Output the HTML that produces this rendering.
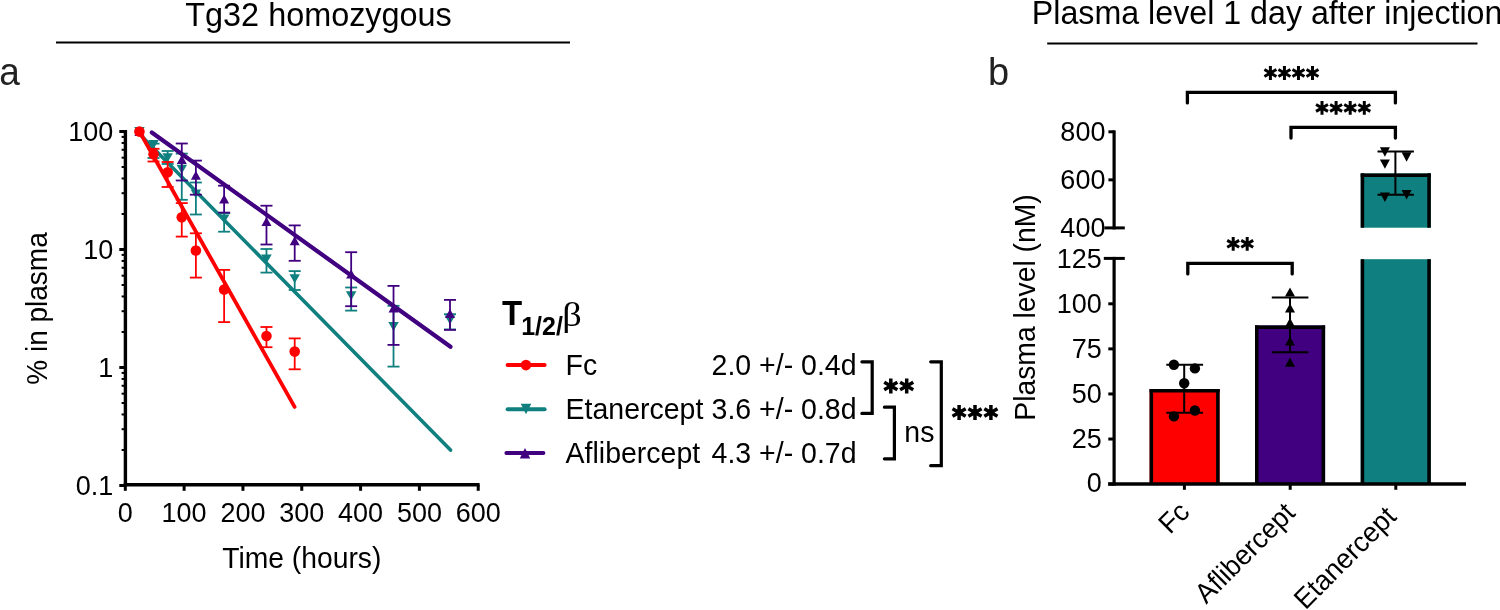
<!DOCTYPE html>
<html><head><meta charset="utf-8"><style>
html,body{margin:0;padding:0;background:#fff;}
#c{width:1500px;height:610px;overflow:hidden;position:relative;}
svg{display:block;will-change:transform;}
</style></head><body><div id="c">
<svg width="1500" height="610" viewBox="0 0 1500 610">
<rect width="1500" height="610" fill="#fff"/>
<text transform="translate(185.30 26.00) scale(1 1.04)" font-family="Liberation Sans" font-size="32.4" font-weight="normal" text-anchor="start" fill="#000" >Tg32 homozygous</text>
<line x1="56.00" y1="42.50" x2="570.00" y2="42.50" stroke="#000" stroke-width="2" stroke-linecap="butt"/>
<text transform="translate(-0.80 84.70) scale(1 1.04)" font-family="Liberation Sans" font-size="37" font-weight="normal" text-anchor="start" fill="#222" >a</text>
<line x1="125.40" y1="130.00" x2="125.40" y2="486.50" stroke="#000" stroke-width="3.4" stroke-linecap="butt"/>
<line x1="123.70" y1="484.80" x2="479.60" y2="484.80" stroke="#000" stroke-width="3.4" stroke-linecap="butt"/>
<line x1="119.30" y1="131.50" x2="125.40" y2="131.50" stroke="#000" stroke-width="3" stroke-linecap="butt"/>
<line x1="119.30" y1="249.50" x2="125.40" y2="249.50" stroke="#000" stroke-width="3" stroke-linecap="butt"/>
<line x1="119.30" y1="367.50" x2="125.40" y2="367.50" stroke="#000" stroke-width="3" stroke-linecap="butt"/>
<line x1="119.30" y1="485.50" x2="125.40" y2="485.50" stroke="#000" stroke-width="3" stroke-linecap="butt"/>
<line x1="121.60" y1="213.98" x2="125.40" y2="213.98" stroke="#000" stroke-width="2" stroke-linecap="butt"/>
<line x1="121.60" y1="193.20" x2="125.40" y2="193.20" stroke="#000" stroke-width="2" stroke-linecap="butt"/>
<line x1="121.60" y1="178.46" x2="125.40" y2="178.46" stroke="#000" stroke-width="2" stroke-linecap="butt"/>
<line x1="121.60" y1="167.02" x2="125.40" y2="167.02" stroke="#000" stroke-width="2" stroke-linecap="butt"/>
<line x1="121.60" y1="157.68" x2="125.40" y2="157.68" stroke="#000" stroke-width="2" stroke-linecap="butt"/>
<line x1="121.60" y1="149.78" x2="125.40" y2="149.78" stroke="#000" stroke-width="2" stroke-linecap="butt"/>
<line x1="121.60" y1="142.94" x2="125.40" y2="142.94" stroke="#000" stroke-width="2" stroke-linecap="butt"/>
<line x1="121.60" y1="136.90" x2="125.40" y2="136.90" stroke="#000" stroke-width="2" stroke-linecap="butt"/>
<line x1="121.60" y1="331.98" x2="125.40" y2="331.98" stroke="#000" stroke-width="2" stroke-linecap="butt"/>
<line x1="121.60" y1="311.20" x2="125.40" y2="311.20" stroke="#000" stroke-width="2" stroke-linecap="butt"/>
<line x1="121.60" y1="296.46" x2="125.40" y2="296.46" stroke="#000" stroke-width="2" stroke-linecap="butt"/>
<line x1="121.60" y1="285.02" x2="125.40" y2="285.02" stroke="#000" stroke-width="2" stroke-linecap="butt"/>
<line x1="121.60" y1="275.68" x2="125.40" y2="275.68" stroke="#000" stroke-width="2" stroke-linecap="butt"/>
<line x1="121.60" y1="267.78" x2="125.40" y2="267.78" stroke="#000" stroke-width="2" stroke-linecap="butt"/>
<line x1="121.60" y1="260.94" x2="125.40" y2="260.94" stroke="#000" stroke-width="2" stroke-linecap="butt"/>
<line x1="121.60" y1="254.90" x2="125.40" y2="254.90" stroke="#000" stroke-width="2" stroke-linecap="butt"/>
<line x1="121.60" y1="449.98" x2="125.40" y2="449.98" stroke="#000" stroke-width="2" stroke-linecap="butt"/>
<line x1="121.60" y1="429.20" x2="125.40" y2="429.20" stroke="#000" stroke-width="2" stroke-linecap="butt"/>
<line x1="121.60" y1="414.46" x2="125.40" y2="414.46" stroke="#000" stroke-width="2" stroke-linecap="butt"/>
<line x1="121.60" y1="403.02" x2="125.40" y2="403.02" stroke="#000" stroke-width="2" stroke-linecap="butt"/>
<line x1="121.60" y1="393.68" x2="125.40" y2="393.68" stroke="#000" stroke-width="2" stroke-linecap="butt"/>
<line x1="121.60" y1="385.78" x2="125.40" y2="385.78" stroke="#000" stroke-width="2" stroke-linecap="butt"/>
<line x1="121.60" y1="378.94" x2="125.40" y2="378.94" stroke="#000" stroke-width="2" stroke-linecap="butt"/>
<line x1="121.60" y1="372.90" x2="125.40" y2="372.90" stroke="#000" stroke-width="2" stroke-linecap="butt"/>
<line x1="125.30" y1="484.80" x2="125.30" y2="490.80" stroke="#000" stroke-width="3" stroke-linecap="butt"/>
<line x1="184.12" y1="484.80" x2="184.12" y2="490.80" stroke="#000" stroke-width="3" stroke-linecap="butt"/>
<line x1="242.94" y1="484.80" x2="242.94" y2="490.80" stroke="#000" stroke-width="3" stroke-linecap="butt"/>
<line x1="301.76" y1="484.80" x2="301.76" y2="490.80" stroke="#000" stroke-width="3" stroke-linecap="butt"/>
<line x1="360.58" y1="484.80" x2="360.58" y2="490.80" stroke="#000" stroke-width="3" stroke-linecap="butt"/>
<line x1="419.40" y1="484.80" x2="419.40" y2="490.80" stroke="#000" stroke-width="3" stroke-linecap="butt"/>
<line x1="478.22" y1="484.80" x2="478.22" y2="490.80" stroke="#000" stroke-width="3" stroke-linecap="butt"/>
<text transform="translate(113.20 141.20) scale(1 1.04)" font-family="Liberation Sans" font-size="27" font-weight="normal" text-anchor="end" fill="#000" >100</text>
<text transform="translate(113.20 259.20) scale(1 1.04)" font-family="Liberation Sans" font-size="27" font-weight="normal" text-anchor="end" fill="#000" >10</text>
<text transform="translate(113.20 377.20) scale(1 1.04)" font-family="Liberation Sans" font-size="27" font-weight="normal" text-anchor="end" fill="#000" >1</text>
<text transform="translate(113.20 495.20) scale(1 1.04)" font-family="Liberation Sans" font-size="27" font-weight="normal" text-anchor="end" fill="#000" >0.1</text>
<text transform="translate(125.30 521.50) scale(1 1.04)" font-family="Liberation Sans" font-size="27" font-weight="normal" text-anchor="middle" fill="#000" >0</text>
<text transform="translate(184.12 521.50) scale(1 1.04)" font-family="Liberation Sans" font-size="27" font-weight="normal" text-anchor="middle" fill="#000" >100</text>
<text transform="translate(242.94 521.50) scale(1 1.04)" font-family="Liberation Sans" font-size="27" font-weight="normal" text-anchor="middle" fill="#000" >200</text>
<text transform="translate(301.76 521.50) scale(1 1.04)" font-family="Liberation Sans" font-size="27" font-weight="normal" text-anchor="middle" fill="#000" >300</text>
<text transform="translate(360.58 521.50) scale(1 1.04)" font-family="Liberation Sans" font-size="27" font-weight="normal" text-anchor="middle" fill="#000" >400</text>
<text transform="translate(419.40 521.50) scale(1 1.04)" font-family="Liberation Sans" font-size="27" font-weight="normal" text-anchor="middle" fill="#000" >500</text>
<text transform="translate(478.22 521.50) scale(1 1.04)" font-family="Liberation Sans" font-size="27" font-weight="normal" text-anchor="middle" fill="#000" >600</text>
<text transform="translate(301.80 568.40) scale(1 1.04)" font-family="Liberation Sans" font-size="28.3" font-weight="normal" text-anchor="middle" fill="#000" >Time (hours)</text>
<text transform="translate(46.50 308.50) rotate(-90) scale(1 1.04)" font-family="Liberation Sans" font-size="28" font-weight="normal" text-anchor="middle" fill="#000" >% in plasma</text>
<line x1="139.50" y1="134.10" x2="450.50" y2="450.10" stroke="#0f7f7f" stroke-width="3.6" stroke-linecap="round"/>
<line x1="153.53" y1="143.60" x2="153.53" y2="158.00" stroke="#0f7f7f" stroke-width="1.8" stroke-linecap="butt"/>
<line x1="147.53" y1="143.60" x2="159.53" y2="143.60" stroke="#0f7f7f" stroke-width="1.8" stroke-linecap="butt"/>
<line x1="147.53" y1="158.00" x2="159.53" y2="158.00" stroke="#0f7f7f" stroke-width="1.8" stroke-linecap="butt"/>
<line x1="167.65" y1="151.00" x2="167.65" y2="164.00" stroke="#0f7f7f" stroke-width="1.8" stroke-linecap="butt"/>
<line x1="161.65" y1="151.00" x2="173.65" y2="151.00" stroke="#0f7f7f" stroke-width="1.8" stroke-linecap="butt"/>
<line x1="161.65" y1="164.00" x2="173.65" y2="164.00" stroke="#0f7f7f" stroke-width="1.8" stroke-linecap="butt"/>
<line x1="181.77" y1="153.60" x2="181.77" y2="199.80" stroke="#0f7f7f" stroke-width="1.8" stroke-linecap="butt"/>
<line x1="175.77" y1="153.60" x2="187.77" y2="153.60" stroke="#0f7f7f" stroke-width="1.8" stroke-linecap="butt"/>
<line x1="175.77" y1="199.80" x2="187.77" y2="199.80" stroke="#0f7f7f" stroke-width="1.8" stroke-linecap="butt"/>
<line x1="195.88" y1="182.50" x2="195.88" y2="214.50" stroke="#0f7f7f" stroke-width="1.8" stroke-linecap="butt"/>
<line x1="189.88" y1="182.50" x2="201.88" y2="182.50" stroke="#0f7f7f" stroke-width="1.8" stroke-linecap="butt"/>
<line x1="189.88" y1="214.50" x2="201.88" y2="214.50" stroke="#0f7f7f" stroke-width="1.8" stroke-linecap="butt"/>
<line x1="224.12" y1="213.20" x2="224.12" y2="231.70" stroke="#0f7f7f" stroke-width="1.8" stroke-linecap="butt"/>
<line x1="218.12" y1="213.20" x2="230.12" y2="213.20" stroke="#0f7f7f" stroke-width="1.8" stroke-linecap="butt"/>
<line x1="218.12" y1="231.70" x2="230.12" y2="231.70" stroke="#0f7f7f" stroke-width="1.8" stroke-linecap="butt"/>
<line x1="266.47" y1="249.00" x2="266.47" y2="272.60" stroke="#0f7f7f" stroke-width="1.8" stroke-linecap="butt"/>
<line x1="260.47" y1="249.00" x2="272.47" y2="249.00" stroke="#0f7f7f" stroke-width="1.8" stroke-linecap="butt"/>
<line x1="260.47" y1="272.60" x2="272.47" y2="272.60" stroke="#0f7f7f" stroke-width="1.8" stroke-linecap="butt"/>
<line x1="294.70" y1="271.10" x2="294.70" y2="290.00" stroke="#0f7f7f" stroke-width="1.8" stroke-linecap="butt"/>
<line x1="288.70" y1="271.10" x2="300.70" y2="271.10" stroke="#0f7f7f" stroke-width="1.8" stroke-linecap="butt"/>
<line x1="288.70" y1="290.00" x2="300.70" y2="290.00" stroke="#0f7f7f" stroke-width="1.8" stroke-linecap="butt"/>
<line x1="351.17" y1="287.50" x2="351.17" y2="310.60" stroke="#0f7f7f" stroke-width="1.8" stroke-linecap="butt"/>
<line x1="345.17" y1="287.50" x2="357.17" y2="287.50" stroke="#0f7f7f" stroke-width="1.8" stroke-linecap="butt"/>
<line x1="345.17" y1="310.60" x2="357.17" y2="310.60" stroke="#0f7f7f" stroke-width="1.8" stroke-linecap="butt"/>
<line x1="393.52" y1="305.80" x2="393.52" y2="366.60" stroke="#0f7f7f" stroke-width="1.8" stroke-linecap="butt"/>
<line x1="387.52" y1="305.80" x2="399.52" y2="305.80" stroke="#0f7f7f" stroke-width="1.8" stroke-linecap="butt"/>
<line x1="387.52" y1="366.60" x2="399.52" y2="366.60" stroke="#0f7f7f" stroke-width="1.8" stroke-linecap="butt"/>
<line x1="449.99" y1="314.20" x2="449.99" y2="329.40" stroke="#0f7f7f" stroke-width="1.8" stroke-linecap="butt"/>
<line x1="443.99" y1="314.20" x2="455.99" y2="314.20" stroke="#0f7f7f" stroke-width="1.8" stroke-linecap="butt"/>
<line x1="443.99" y1="329.40" x2="455.99" y2="329.40" stroke="#0f7f7f" stroke-width="1.8" stroke-linecap="butt"/>
<polygon points="134.17,127.00 144.67,127.00 139.42,136.00" fill="#0f7f7f"/>
<polygon points="148.28,140.00 158.78,140.00 153.53,149.00" fill="#0f7f7f"/>
<polygon points="162.40,153.30 172.90,153.30 167.65,162.30" fill="#0f7f7f"/>
<polygon points="176.52,164.70 187.02,164.70 181.77,173.70" fill="#0f7f7f"/>
<polygon points="190.63,189.50 201.13,189.50 195.88,198.50" fill="#0f7f7f"/>
<polygon points="218.87,214.60 229.37,214.60 224.12,223.60" fill="#0f7f7f"/>
<polygon points="261.22,254.40 271.72,254.40 266.47,263.40" fill="#0f7f7f"/>
<polygon points="289.45,274.30 299.95,274.30 294.70,283.30" fill="#0f7f7f"/>
<polygon points="345.92,291.20 356.42,291.20 351.17,300.20" fill="#0f7f7f"/>
<polygon points="388.27,321.90 398.77,321.90 393.52,330.90" fill="#0f7f7f"/>
<polygon points="444.74,315.60 455.24,315.60 449.99,324.60" fill="#0f7f7f"/>
<line x1="151.80" y1="132.50" x2="450.50" y2="346.70" stroke="#400080" stroke-width="4.2" stroke-linecap="round"/>
<line x1="181.77" y1="143.50" x2="181.77" y2="180.50" stroke="#400080" stroke-width="1.8" stroke-linecap="butt"/>
<line x1="175.77" y1="143.50" x2="187.77" y2="143.50" stroke="#400080" stroke-width="1.8" stroke-linecap="butt"/>
<line x1="175.77" y1="180.50" x2="187.77" y2="180.50" stroke="#400080" stroke-width="1.8" stroke-linecap="butt"/>
<line x1="195.88" y1="160.60" x2="195.88" y2="194.70" stroke="#400080" stroke-width="1.8" stroke-linecap="butt"/>
<line x1="189.88" y1="160.60" x2="201.88" y2="160.60" stroke="#400080" stroke-width="1.8" stroke-linecap="butt"/>
<line x1="189.88" y1="194.70" x2="201.88" y2="194.70" stroke="#400080" stroke-width="1.8" stroke-linecap="butt"/>
<line x1="224.12" y1="185.70" x2="224.12" y2="212.60" stroke="#400080" stroke-width="1.8" stroke-linecap="butt"/>
<line x1="218.12" y1="185.70" x2="230.12" y2="185.70" stroke="#400080" stroke-width="1.8" stroke-linecap="butt"/>
<line x1="218.12" y1="212.60" x2="230.12" y2="212.60" stroke="#400080" stroke-width="1.8" stroke-linecap="butt"/>
<line x1="266.47" y1="205.70" x2="266.47" y2="244.50" stroke="#400080" stroke-width="1.8" stroke-linecap="butt"/>
<line x1="260.47" y1="205.70" x2="272.47" y2="205.70" stroke="#400080" stroke-width="1.8" stroke-linecap="butt"/>
<line x1="260.47" y1="244.50" x2="272.47" y2="244.50" stroke="#400080" stroke-width="1.8" stroke-linecap="butt"/>
<line x1="294.70" y1="225.40" x2="294.70" y2="260.80" stroke="#400080" stroke-width="1.8" stroke-linecap="butt"/>
<line x1="288.70" y1="225.40" x2="300.70" y2="225.40" stroke="#400080" stroke-width="1.8" stroke-linecap="butt"/>
<line x1="288.70" y1="260.80" x2="300.70" y2="260.80" stroke="#400080" stroke-width="1.8" stroke-linecap="butt"/>
<line x1="351.17" y1="252.20" x2="351.17" y2="306.20" stroke="#400080" stroke-width="1.8" stroke-linecap="butt"/>
<line x1="345.17" y1="252.20" x2="357.17" y2="252.20" stroke="#400080" stroke-width="1.8" stroke-linecap="butt"/>
<line x1="345.17" y1="306.20" x2="357.17" y2="306.20" stroke="#400080" stroke-width="1.8" stroke-linecap="butt"/>
<line x1="393.52" y1="285.90" x2="393.52" y2="344.90" stroke="#400080" stroke-width="1.8" stroke-linecap="butt"/>
<line x1="387.52" y1="285.90" x2="399.52" y2="285.90" stroke="#400080" stroke-width="1.8" stroke-linecap="butt"/>
<line x1="387.52" y1="344.90" x2="399.52" y2="344.90" stroke="#400080" stroke-width="1.8" stroke-linecap="butt"/>
<line x1="449.99" y1="299.90" x2="449.99" y2="329.90" stroke="#400080" stroke-width="1.8" stroke-linecap="butt"/>
<line x1="443.99" y1="299.90" x2="455.99" y2="299.90" stroke="#400080" stroke-width="1.8" stroke-linecap="butt"/>
<line x1="443.99" y1="329.90" x2="455.99" y2="329.90" stroke="#400080" stroke-width="1.8" stroke-linecap="butt"/>
<polygon points="134.42,136.00 144.42,136.00 139.42,127.00" fill="#400080"/>
<polygon points="176.77,164.00 186.77,164.00 181.77,155.00" fill="#400080"/>
<polygon points="190.88,179.70 200.88,179.70 195.88,170.70" fill="#400080"/>
<polygon points="219.12,203.50 229.12,203.50 224.12,194.50" fill="#400080"/>
<polygon points="261.47,226.00 271.47,226.00 266.47,217.00" fill="#400080"/>
<polygon points="289.70,245.30 299.70,245.30 294.70,236.30" fill="#400080"/>
<polygon points="346.17,278.60 356.17,278.60 351.17,269.60" fill="#400080"/>
<polygon points="388.52,312.50 398.52,312.50 393.52,303.50" fill="#400080"/>
<polygon points="444.99,318.10 454.99,318.10 449.99,309.10" fill="#400080"/>
<line x1="139.50" y1="131.50" x2="294.60" y2="406.90" stroke="#ff0000" stroke-width="3.8" stroke-linecap="round"/>
<line x1="153.53" y1="148.80" x2="153.53" y2="161.50" stroke="#ff0000" stroke-width="1.8" stroke-linecap="butt"/>
<line x1="147.53" y1="148.80" x2="159.53" y2="148.80" stroke="#ff0000" stroke-width="1.8" stroke-linecap="butt"/>
<line x1="147.53" y1="161.50" x2="159.53" y2="161.50" stroke="#ff0000" stroke-width="1.8" stroke-linecap="butt"/>
<line x1="167.65" y1="162.00" x2="167.65" y2="187.00" stroke="#ff0000" stroke-width="1.8" stroke-linecap="butt"/>
<line x1="161.65" y1="162.00" x2="173.65" y2="162.00" stroke="#ff0000" stroke-width="1.8" stroke-linecap="butt"/>
<line x1="161.65" y1="187.00" x2="173.65" y2="187.00" stroke="#ff0000" stroke-width="1.8" stroke-linecap="butt"/>
<line x1="181.77" y1="203.10" x2="181.77" y2="236.60" stroke="#ff0000" stroke-width="1.8" stroke-linecap="butt"/>
<line x1="175.77" y1="203.10" x2="187.77" y2="203.10" stroke="#ff0000" stroke-width="1.8" stroke-linecap="butt"/>
<line x1="175.77" y1="236.60" x2="187.77" y2="236.60" stroke="#ff0000" stroke-width="1.8" stroke-linecap="butt"/>
<line x1="195.88" y1="233.30" x2="195.88" y2="277.60" stroke="#ff0000" stroke-width="1.8" stroke-linecap="butt"/>
<line x1="189.88" y1="233.30" x2="201.88" y2="233.30" stroke="#ff0000" stroke-width="1.8" stroke-linecap="butt"/>
<line x1="189.88" y1="277.60" x2="201.88" y2="277.60" stroke="#ff0000" stroke-width="1.8" stroke-linecap="butt"/>
<line x1="224.12" y1="269.90" x2="224.12" y2="322.10" stroke="#ff0000" stroke-width="1.8" stroke-linecap="butt"/>
<line x1="218.12" y1="269.90" x2="230.12" y2="269.90" stroke="#ff0000" stroke-width="1.8" stroke-linecap="butt"/>
<line x1="218.12" y1="322.10" x2="230.12" y2="322.10" stroke="#ff0000" stroke-width="1.8" stroke-linecap="butt"/>
<line x1="266.47" y1="327.00" x2="266.47" y2="347.20" stroke="#ff0000" stroke-width="1.8" stroke-linecap="butt"/>
<line x1="260.47" y1="327.00" x2="272.47" y2="327.00" stroke="#ff0000" stroke-width="1.8" stroke-linecap="butt"/>
<line x1="260.47" y1="347.20" x2="272.47" y2="347.20" stroke="#ff0000" stroke-width="1.8" stroke-linecap="butt"/>
<line x1="294.70" y1="338.40" x2="294.70" y2="369.30" stroke="#ff0000" stroke-width="1.8" stroke-linecap="butt"/>
<line x1="288.70" y1="338.40" x2="300.70" y2="338.40" stroke="#ff0000" stroke-width="1.8" stroke-linecap="butt"/>
<line x1="288.70" y1="369.30" x2="300.70" y2="369.30" stroke="#ff0000" stroke-width="1.8" stroke-linecap="butt"/>
<circle cx="139.42" cy="131.60" r="5.3" fill="#ff0000"/>
<circle cx="153.53" cy="154.20" r="5.3" fill="#ff0000"/>
<circle cx="167.65" cy="172.20" r="5.3" fill="#ff0000"/>
<circle cx="181.77" cy="217.30" r="5.3" fill="#ff0000"/>
<circle cx="195.88" cy="250.50" r="5.3" fill="#ff0000"/>
<circle cx="224.12" cy="289.50" r="5.3" fill="#ff0000"/>
<circle cx="266.47" cy="336.00" r="5.3" fill="#ff0000"/>
<circle cx="294.70" cy="351.60" r="5.3" fill="#ff0000"/>
<text transform="translate(502.00 325.20) scale(1 1.04)" font-family="Liberation Sans" font-size="33" font-weight="bold" text-anchor="start" fill="#000" >T</text>
<text transform="translate(521.20 334.60) scale(1 1.04)" font-family="Liberation Sans" font-size="25" font-weight="bold" text-anchor="start" fill="#000" >1/2/</text>
<text transform="translate(562.2 326.1) scale(1.13 1)" font-family="Liberation Serif" font-size="34" fill="#000">β</text>
<line x1="507.60" y1="365.10" x2="544.60" y2="365.10" stroke="#ff0000" stroke-width="4" stroke-linecap="round"/>
<circle cx="526.00" cy="365.10" r="5.3" fill="#ff0000"/>
<line x1="507.60" y1="409.20" x2="544.60" y2="409.20" stroke="#0f7f7f" stroke-width="4" stroke-linecap="round"/>
<polygon points="520.75,403.85 531.25,403.85 526.00,414.15" fill="#0f7f7f"/>
<line x1="506.40" y1="453.00" x2="543.40" y2="453.00" stroke="#400080" stroke-width="4" stroke-linecap="round"/>
<polygon points="519.75,458.40 530.25,458.40 525.00,448.00" fill="#400080"/>
<text transform="translate(565.60 374.50) scale(1 1.04)" font-family="Liberation Sans" font-size="28.5" font-weight="normal" text-anchor="start" fill="#000" >Fc</text>
<text transform="translate(565.60 418.90) scale(1 1.04)" font-family="Liberation Sans" font-size="28.5" font-weight="normal" text-anchor="start" fill="#000" >Etanercept</text>
<text transform="translate(565.60 462.80) scale(1 1.04)" font-family="Liberation Sans" font-size="28.5" font-weight="normal" text-anchor="start" fill="#000" >Aflibercept</text>
<text transform="translate(856.50 374.80) scale(1 1.04)" font-family="Liberation Sans" font-size="28.5" font-weight="normal" text-anchor="end" fill="#000" >2.0 +/- 0.4d</text>
<text transform="translate(856.50 418.70) scale(1 1.04)" font-family="Liberation Sans" font-size="28.5" font-weight="normal" text-anchor="end" fill="#000" >3.6 +/- 0.8d</text>
<text transform="translate(856.50 462.60) scale(1 1.04)" font-family="Liberation Sans" font-size="28.5" font-weight="normal" text-anchor="end" fill="#000" >4.3 +/- 0.7d</text>
<polyline points="861.9,361.8 872.2,361.8 872.2,413.4 861.9,413.4" fill="none" stroke="#000" stroke-width="3.2" stroke-linejoin="miter" stroke-linecap="round"/>
<polyline points="884.4,407.2 894.4,407.2 894.4,458.8 884.4,458.8" fill="none" stroke="#000" stroke-width="3.2" stroke-linejoin="miter" stroke-linecap="round"/>
<polyline points="930.7,361.8 941.3,361.8 941.3,465.7 930.7,465.7" fill="none" stroke="#000" stroke-width="3.2" stroke-linejoin="miter" stroke-linecap="round"/>
<path d="M890.80,393.60L890.80,378.40M884.22,389.80L897.38,382.20M884.22,382.20L897.38,389.80" stroke="#000" stroke-width="3.5" fill="none"/>
<path d="M906.70,393.60L906.70,378.40M900.12,389.80L913.28,382.20M900.12,382.20L913.28,389.80" stroke="#000" stroke-width="3.5" fill="none"/>
<text transform="translate(904.35 441.80) scale(1 1.04)" font-family="Liberation Sans" font-size="28.5" font-weight="normal" text-anchor="start" fill="#000" >ns</text>
<path d="M959.10,420.10L959.10,404.90M952.52,416.30L965.68,408.70M952.52,408.70L965.68,416.30" stroke="#000" stroke-width="3.5" fill="none"/>
<path d="M975.00,420.10L975.00,404.90M968.42,416.30L981.58,408.70M968.42,408.70L981.58,416.30" stroke="#000" stroke-width="3.5" fill="none"/>
<path d="M990.90,420.10L990.90,404.90M984.32,416.30L997.48,408.70M984.32,408.70L997.48,416.30" stroke="#000" stroke-width="3.5" fill="none"/>
<text transform="translate(1031.80 24.20) scale(1 1.04)" font-family="Liberation Sans" font-size="32.2" font-weight="normal" text-anchor="start" fill="#000" >Plasma level 1 day after injection</text>
<line x1="1047.20" y1="43.60" x2="1477.50" y2="43.60" stroke="#000" stroke-width="2" stroke-linecap="butt"/>
<text transform="translate(988.00 84.80) scale(1 1.04)" font-family="Liberation Sans" font-size="38" font-weight="normal" text-anchor="start" fill="#222" >b</text>
<rect x="1149.60" y="389.10" width="70.00" height="94.90" fill="#ff0000"/>
<line x1="1149.60" y1="390.85" x2="1219.60" y2="390.85" stroke="#000" stroke-width="3.5" stroke-linecap="butt"/>
<line x1="1151.35" y1="389.10" x2="1151.35" y2="484.00" stroke="#000" stroke-width="3.5" stroke-linecap="butt"/>
<line x1="1217.85" y1="389.10" x2="1217.85" y2="484.00" stroke="#000" stroke-width="3.5" stroke-linecap="butt"/>
<rect x="1255.00" y="325.40" width="70.10" height="158.60" fill="#400080"/>
<line x1="1255.00" y1="327.15" x2="1325.10" y2="327.15" stroke="#000" stroke-width="3.5" stroke-linecap="butt"/>
<line x1="1256.75" y1="325.40" x2="1256.75" y2="484.00" stroke="#000" stroke-width="3.5" stroke-linecap="butt"/>
<line x1="1323.35" y1="325.40" x2="1323.35" y2="484.00" stroke="#000" stroke-width="3.5" stroke-linecap="butt"/>
<rect x="1360.70" y="173.40" width="70.10" height="54.30" fill="#0f7f7f"/>
<line x1="1360.70" y1="175.15" x2="1430.80" y2="175.15" stroke="#000" stroke-width="3.5" stroke-linecap="butt"/>
<line x1="1362.45" y1="173.40" x2="1362.45" y2="227.70" stroke="#000" stroke-width="3.5" stroke-linecap="butt"/>
<line x1="1429.05" y1="173.40" x2="1429.05" y2="227.70" stroke="#000" stroke-width="3.5" stroke-linecap="butt"/>
<rect x="1360.70" y="259.20" width="70.10" height="224.80" fill="#0f7f7f"/>
<line x1="1362.45" y1="259.20" x2="1362.45" y2="484.00" stroke="#000" stroke-width="3.5" stroke-linecap="butt"/>
<line x1="1429.05" y1="259.20" x2="1429.05" y2="484.00" stroke="#000" stroke-width="3.5" stroke-linecap="butt"/>
<line x1="1114.10" y1="130.30" x2="1114.10" y2="229.40" stroke="#000" stroke-width="3.2" stroke-linecap="butt"/>
<line x1="1114.10" y1="256.90" x2="1114.10" y2="485.50" stroke="#000" stroke-width="3.2" stroke-linecap="butt"/>
<line x1="1108.20" y1="484.10" x2="1466.00" y2="484.10" stroke="#000" stroke-width="3.5" stroke-linecap="butt"/>
<line x1="1108.40" y1="131.80" x2="1114.10" y2="131.80" stroke="#000" stroke-width="3" stroke-linecap="butt"/>
<line x1="1108.40" y1="179.85" x2="1114.10" y2="179.85" stroke="#000" stroke-width="3" stroke-linecap="butt"/>
<line x1="1104.40" y1="227.90" x2="1124.80" y2="227.90" stroke="#000" stroke-width="3" stroke-linecap="butt"/>
<line x1="1103.80" y1="258.40" x2="1124.80" y2="258.40" stroke="#000" stroke-width="3" stroke-linecap="butt"/>
<line x1="1108.30" y1="303.80" x2="1114.10" y2="303.80" stroke="#000" stroke-width="3" stroke-linecap="butt"/>
<line x1="1108.30" y1="348.88" x2="1114.10" y2="348.88" stroke="#000" stroke-width="3" stroke-linecap="butt"/>
<line x1="1108.30" y1="393.95" x2="1114.10" y2="393.95" stroke="#000" stroke-width="3" stroke-linecap="butt"/>
<line x1="1108.30" y1="439.03" x2="1114.10" y2="439.03" stroke="#000" stroke-width="3" stroke-linecap="butt"/>
<line x1="1108.30" y1="484.10" x2="1114.10" y2="484.10" stroke="#000" stroke-width="3" stroke-linecap="butt"/>
<line x1="1184.40" y1="484.00" x2="1184.40" y2="489.80" stroke="#000" stroke-width="3" stroke-linecap="butt"/>
<line x1="1290.20" y1="484.00" x2="1290.20" y2="489.80" stroke="#000" stroke-width="3" stroke-linecap="butt"/>
<line x1="1395.80" y1="484.00" x2="1395.80" y2="489.80" stroke="#000" stroke-width="3" stroke-linecap="butt"/>
<text transform="translate(1105.40 140.90) scale(1 1.04)" font-family="Liberation Sans" font-size="27" font-weight="normal" text-anchor="end" fill="#000" >800</text>
<text transform="translate(1105.40 189.10) scale(1 1.04)" font-family="Liberation Sans" font-size="27" font-weight="normal" text-anchor="end" fill="#000" >600</text>
<text transform="translate(1105.40 237.30) scale(1 1.04)" font-family="Liberation Sans" font-size="27" font-weight="normal" text-anchor="end" fill="#000" >400</text>
<text transform="translate(1101.70 267.90) scale(1 1.04)" font-family="Liberation Sans" font-size="27" font-weight="normal" text-anchor="end" fill="#000" >125</text>
<text transform="translate(1101.70 312.80) scale(1 1.04)" font-family="Liberation Sans" font-size="27" font-weight="normal" text-anchor="end" fill="#000" >100</text>
<text transform="translate(1101.70 357.70) scale(1 1.04)" font-family="Liberation Sans" font-size="27" font-weight="normal" text-anchor="end" fill="#000" >75</text>
<text transform="translate(1101.70 402.60) scale(1 1.04)" font-family="Liberation Sans" font-size="27" font-weight="normal" text-anchor="end" fill="#000" >50</text>
<text transform="translate(1101.70 447.50) scale(1 1.04)" font-family="Liberation Sans" font-size="27" font-weight="normal" text-anchor="end" fill="#000" >25</text>
<text transform="translate(1101.70 492.40) scale(1 1.04)" font-family="Liberation Sans" font-size="27" font-weight="normal" text-anchor="end" fill="#000" >0</text>
<text transform="translate(1035.20 307.50) rotate(-90) scale(1 1.04)" font-family="Liberation Sans" font-size="28.3" font-weight="normal" text-anchor="middle" fill="#000" >Plasma level (nM)</text>
<line x1="1184.20" y1="364.70" x2="1184.20" y2="412.70" stroke="#000" stroke-width="2" stroke-linecap="butt"/>
<line x1="1166.30" y1="364.70" x2="1203.10" y2="364.70" stroke="#000" stroke-width="2" stroke-linecap="butt"/>
<line x1="1166.30" y1="412.70" x2="1203.10" y2="412.70" stroke="#000" stroke-width="2" stroke-linecap="butt"/>
<line x1="1290.00" y1="297.40" x2="1290.00" y2="352.30" stroke="#000" stroke-width="2" stroke-linecap="butt"/>
<line x1="1271.80" y1="297.40" x2="1308.40" y2="297.40" stroke="#000" stroke-width="2" stroke-linecap="butt"/>
<line x1="1271.80" y1="352.30" x2="1308.40" y2="352.30" stroke="#000" stroke-width="2" stroke-linecap="butt"/>
<line x1="1395.40" y1="151.60" x2="1395.40" y2="194.80" stroke="#000" stroke-width="2" stroke-linecap="butt"/>
<line x1="1377.50" y1="151.60" x2="1413.90" y2="151.60" stroke="#000" stroke-width="2" stroke-linecap="butt"/>
<line x1="1377.50" y1="194.80" x2="1413.90" y2="194.80" stroke="#000" stroke-width="2" stroke-linecap="butt"/>
<circle cx="1173.90" cy="364.70" r="5.2" fill="#000"/>
<circle cx="1194.90" cy="368.40" r="5.2" fill="#000"/>
<circle cx="1184.20" cy="383.20" r="5.2" fill="#000"/>
<circle cx="1194.90" cy="410.50" r="5.2" fill="#000"/>
<circle cx="1173.90" cy="416.40" r="5.2" fill="#000"/>
<polygon points="1285.00,296.60 1295.00,296.60 1290.00,287.40" fill="#000"/>
<polygon points="1285.00,312.60 1295.00,312.60 1290.00,303.40" fill="#000"/>
<polygon points="1285.00,327.10 1295.00,327.10 1290.00,317.90" fill="#000"/>
<polygon points="1285.00,345.60 1295.00,345.60 1290.00,336.40" fill="#000"/>
<polygon points="1285.00,366.80 1295.00,366.80 1290.00,357.60" fill="#000"/>
<polygon points="1379.90,147.30 1389.90,147.30 1384.90,156.70" fill="#000"/>
<polygon points="1401.60,152.30 1411.60,152.30 1406.60,161.70" fill="#000"/>
<polygon points="1379.90,159.40 1389.90,159.40 1384.90,168.80" fill="#000"/>
<polygon points="1401.60,190.00 1411.60,190.00 1406.60,199.40" fill="#000"/>
<polygon points="1379.90,192.50 1389.90,192.50 1384.90,201.90" fill="#000"/>
<polyline points="1187.4,102.9 1187.4,92.3 1395.4,92.3 1395.4,102.9" fill="none" stroke="#000" stroke-width="3.3" stroke-linejoin="miter" stroke-linecap="round"/>
<polyline points="1291,138.1 1291,127.3 1395.4,127.3 1395.4,138.1" fill="none" stroke="#000" stroke-width="3.3" stroke-linejoin="miter" stroke-linecap="round"/>
<polyline points="1187.8,273.9 1187.8,263.4 1292.2,263.4 1292.2,273.9" fill="none" stroke="#000" stroke-width="3.3" stroke-linejoin="miter" stroke-linecap="round"/>
<path d="M1270.40,79.90L1270.40,66.10M1264.42,76.45L1276.38,69.55M1264.42,69.55L1276.38,76.45" stroke="#000" stroke-width="3.0" fill="none"/>
<path d="M1284.43,79.90L1284.43,66.10M1278.45,76.45L1290.41,69.55M1278.45,69.55L1290.41,76.45" stroke="#000" stroke-width="3.0" fill="none"/>
<path d="M1298.46,79.90L1298.46,66.10M1292.48,76.45L1304.44,69.55M1292.48,69.55L1304.44,76.45" stroke="#000" stroke-width="3.0" fill="none"/>
<path d="M1312.49,79.90L1312.49,66.10M1306.51,76.45L1318.47,69.55M1306.51,69.55L1318.47,76.45" stroke="#000" stroke-width="3.0" fill="none"/>
<path d="M1322.00,114.85L1322.00,101.05M1316.02,111.40L1327.98,104.50M1316.02,104.50L1327.98,111.40" stroke="#000" stroke-width="3.0" fill="none"/>
<path d="M1336.10,114.85L1336.10,101.05M1330.12,111.40L1342.08,104.50M1330.12,104.50L1342.08,111.40" stroke="#000" stroke-width="3.0" fill="none"/>
<path d="M1350.20,114.85L1350.20,101.05M1344.22,111.40L1356.18,104.50M1344.22,104.50L1356.18,111.40" stroke="#000" stroke-width="3.0" fill="none"/>
<path d="M1364.30,114.85L1364.30,101.05M1358.32,111.40L1370.28,104.50M1358.32,104.50L1370.28,111.40" stroke="#000" stroke-width="3.0" fill="none"/>
<path d="M1233.20,250.70L1233.20,236.90M1227.22,247.25L1239.18,240.35M1227.22,240.35L1239.18,247.25" stroke="#000" stroke-width="3.0" fill="none"/>
<path d="M1247.20,250.70L1247.20,236.90M1241.22,247.25L1253.18,240.35M1241.22,240.35L1253.18,247.25" stroke="#000" stroke-width="3.0" fill="none"/>
<text transform="translate(1191.10 513.80) rotate(-45) scale(1 1.04)" font-family="Liberation Sans" font-size="27" font-weight="normal" text-anchor="end" fill="#000" >Fc</text>
<text transform="translate(1296.50 514.50) rotate(-45) scale(1 1.04)" font-family="Liberation Sans" font-size="27" font-weight="normal" text-anchor="end" fill="#000" >Aflibercept</text>
<text transform="translate(1397.70 518.20) rotate(-45) scale(1 1.04)" font-family="Liberation Sans" font-size="27" font-weight="normal" text-anchor="end" fill="#000" >Etanercept</text>
</svg></div></body></html>
